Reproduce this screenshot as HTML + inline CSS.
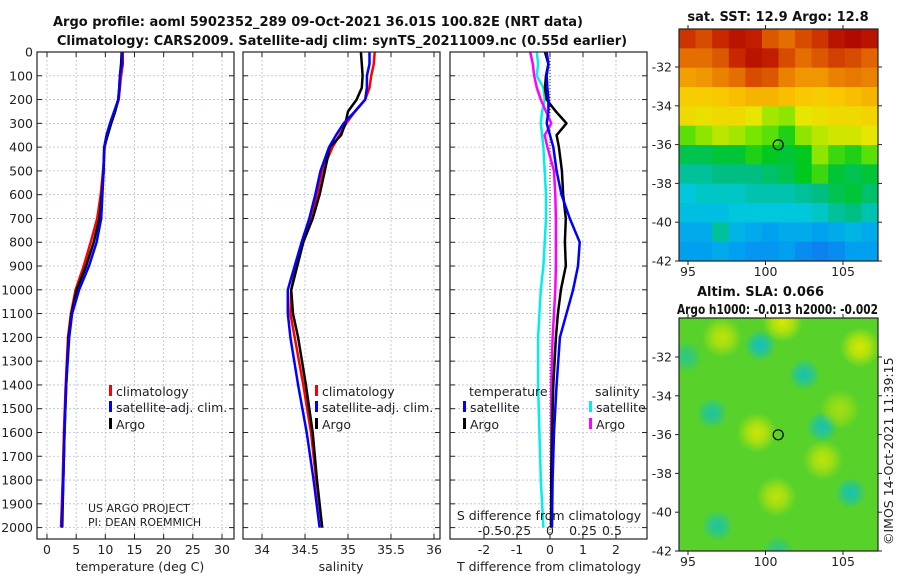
<!DOCTYPE html>
<html><head><meta charset="utf-8"><style>
body{margin:0;background:#fff;}
svg{display:block;font-family:"DejaVu Sans","Liberation Sans",sans-serif;}
.t{font-size:12.5px;fill:#222;}
.b{font-size:13px;font-weight:bold;fill:#111;}
.g{stroke:#b8bedc;stroke-width:0.8;stroke-dasharray:2,2;}
</style></head><body>
<svg id="c" width="900" height="580">
<g id="grid"></g><g id="lines"></g><g id="axes"></g><g id="maps"></g>
<text class="b" x="318" y="26" text-anchor="middle">Argo profile: aoml 5902352_289 09-Oct-2021 36.01S 100.82E (NRT data)</text>
<text class="b" x="342" y="45" text-anchor="middle">Climatology: CARS2009. Satellite-adj clim: synTS_20211009.nc (0.55d earlier)</text>
<text class="b" x="778" y="21" text-anchor="middle">sat. SST: 12.9 Argo: 12.8</text>
<text class="b" x="697" y="296">Altim. SLA: 0.066</text>
<text class="b" x="677" y="314" textLength="201" lengthAdjust="spacingAndGlyphs">Argo h1000: -0.013 h2000: -0.002</text>
<text class="t" x="0" y="0" transform="translate(893,545) rotate(-90)">©IMOS 14-Oct-2021 11:39:15</text>
<text class="t" x="140" y="571" text-anchor="middle">temperature (deg C)</text>
<text class="t" x="341" y="571" text-anchor="middle">salinity</text>
<text class="t" x="549" y="571" text-anchor="middle">T difference from climatology</text>
<text class="t" x="549" y="520" text-anchor="middle">S difference from climatology</text>
<text style="font-size:11px;fill:#222" x="88" y="512">US ARGO PROJECT</text>
<text style="font-size:11px;fill:#222" x="88" y="526">PI: DEAN ROEMMICH</text>
</svg>
<script>
const depths=[0,50,100,150,200,250,300,350,400,500,600,700,800,900,1000,1100,1200,1400,1600,1800,2000];
const tArgo=[12.8,12.7,12.5,12.4,12.2,11.7,11.0,10.4,9.8,9.7,9.4,9.0,8.0,6.7,5.1,4.2,3.7,3.3,3.0,2.8,2.6];
const tClim=[13.0,13.0,12.7,12.5,12.3,11.6,10.9,10.3,9.9,9.6,9.2,8.6,7.5,6.3,4.9,4.1,3.6,3.2,2.9,2.7,2.4];
const tSat=[12.9,12.9,12.5,12.4,12.2,11.5,10.8,10.2,9.8,9.7,9.5,9.3,8.5,7.2,5.5,4.3,3.8,3.3,3.0,2.8,2.5];
const sArgo=[35.15,35.16,35.17,35.16,35.1,35.0,34.97,34.92,34.79,34.73,34.67,34.59,34.48,34.41,34.34,34.36,34.42,34.51,34.59,34.64,34.70];
const sClim=[35.31,35.30,35.27,35.25,35.2,35.08,34.98,34.9,34.82,34.70,34.64,34.57,34.48,34.40,34.34,34.33,34.38,34.48,34.57,34.63,34.70];
const sSat=[35.25,35.25,35.22,35.22,35.2,35.08,34.95,34.86,34.78,34.68,34.62,34.55,34.46,34.38,34.30,34.30,34.33,34.42,34.52,34.60,34.67];
const dTSat=[-0.1,-0.05,-0.1,-0.08,-0.05,-0.05,-0.1,0.0,0.1,0.2,0.35,0.6,0.9,0.85,0.7,0.5,0.3,0.2,0.12,0.08,0.06];
const dTArgo=[-0.15,-0.05,-0.12,-0.15,-0.1,0.18,0.5,0.2,0.27,0.36,0.4,0.48,0.45,0.48,0.33,0.24,0.18,0.1,0.06,0.04,0.03];
const dSSat=[-0.1,-0.09,-0.1,-0.05,-0.04,-0.06,-0.07,-0.06,-0.05,-0.04,-0.03,-0.03,-0.04,-0.05,-0.07,-0.08,-0.09,-0.09,-0.08,-0.07,-0.05];
const dSArgo=[-0.15,-0.13,-0.12,-0.1,-0.07,-0.03,0.01,-0.04,-0.02,0.03,0.04,0.045,0.045,0.045,0.04,0.03,0.02,0.01,0.01,0.01,0.01];
const tTicks=[0,5,10,15,20,25,30];
const sTicks=[34,34.5,35,35.5,36];
const sTickLabels=["34","34.5","35","35.5","36"];
const dTTicks=[-2,-1,0,1,2];
const dSTicks=[-0.5,-0.25,0,0.25,0.5];
const dSTickLabels=["-0.5","-0.25","0","0.25","0.5"];
const depthTicks=[0,100,200,300,400,500,600,700,800,900,1000,1100,1200,1300,1400,1500,1600,1700,1800,1900,2000];
const sstRows=[
[15.5,15.3,15.6,15.8,15.7,15.2,15.0,15.3,15.5,15.8,15.9,15.8],
[15.0,15.0,15.2,15.6,15.8,15.7,15.3,15.0,15.2,15.4,15.3,15.1],
[14.5,14.6,14.8,15.0,15.3,15.2,14.8,14.6,14.6,14.8,14.9,14.8],
[14.0,14.0,14.1,14.2,14.3,14.3,14.2,14.1,14.0,14.1,14.2,14.3],
[13.8,13.7,13.8,13.8,13.6,13.3,13.2,13.6,13.7,13.8,13.8,13.9],
[13.0,13.2,13.4,13.3,13.1,13.0,12.8,13.2,13.4,13.5,13.5,13.6],
[12.5,12.5,12.6,12.6,12.8,12.7,12.6,12.7,13.2,12.9,12.8,13.0],
[12.2,12.2,12.3,12.3,12.3,12.4,12.5,12.7,12.9,12.6,12.5,12.6],
[11.9,12.0,12.0,12.0,12.1,12.1,12.1,12.2,12.3,12.5,12.6,12.4],
[11.8,11.8,11.8,11.9,11.9,11.9,11.9,11.9,12.0,12.2,12.3,12.1],
[11.6,11.6,12.2,11.7,11.6,11.5,11.6,11.6,11.5,11.6,11.7,11.6],
[11.5,11.5,11.6,11.5,11.4,11.4,11.5,11.3,11.2,11.3,11.5,11.5]];
const blobLon=[99.65,102.5,96.55,103.65,105.5,96.9,94.9,100.8,101.1,97.2,106.1,99.45,103.7,100.7,104.8];
const blobLat=[-31.4,-32.9,-34.9,-35.6,-39.0,-40.7,-32.0,-42.0,-30.2,-31.0,-31.5,-35.9,-37.3,-39.2,-34.7];
const blobVal=[-1,-0.9,-0.8,-0.9,-0.9,-0.8,-0.6,-0.6,1,0.8,1.2,0.9,0.8,0.8,0.6];
const lonTicks=[95,100,105];
const latTicks=[-32,-34,-36,-38,-40,-42];

const NS="http://www.w3.org/2000/svg";
function mk(tag,attrs,parent){const e=document.createElementNS(NS,tag);for(const k in attrs)e.setAttribute(k,attrs[k]);parent.appendChild(e);return e;}
const G=document.getElementById('grid'),L=document.getElementById('lines'),A=document.getElementById('axes'),M=document.getElementById('maps');
const Y=d=>52+d*0.2378;
const xT=v=>47+v*5.833, xS=v=>262+(v-34)*86, xD=v=>550+v*33, xDS=v=>550+v*132;
const panels=[[37,234,'temperature-panel'],[243,440,'salinity-panel'],[450,647,'difference-panel']];
panels.forEach(([x0,x1,n])=>{
  depthTicks.forEach(d=>{
    const l=mk('line',{x1:x0,x2:x1,y1:Y(d),y2:Y(d),class:'g'},G);
    
    
    mk('line',{x1:x0,x2:x0+5,y1:Y(d),y2:Y(d),stroke:'#222'},A);
    mk('line',{x1:x1-5,x2:x1,y1:Y(d),y2:Y(d),stroke:'#222'},A);
  });
  const r=mk('rect',{x:x0,y:52,width:x1-x0,height:487,fill:'none',stroke:'#222','stroke-width':1.2},A);
  
  
});
depthTicks.forEach(d=>{const t=mk('text',{x:33,y:Y(d)+4.5,'text-anchor':'end',class:'t'},A);t.textContent=d;
  
  });
function xticks(ticks,labels,fx,ly){ticks.forEach((v,i)=>{const x=fx(v);
  mk('line',{x1:x,x2:x,y1:52,y2:539,class:'g'},G);
  mk('line',{x1:x,x2:x,y1:534,y2:539,stroke:'#222'},A);mk('line',{x1:x,x2:x,y1:52,y2:57,stroke:'#222'},A);
  const t=mk('text',{x:x,y:ly,'text-anchor':'middle',class:'t'},A);t.textContent=labels[i];
  
  });}
xticks(tTicks,tTicks.map(String),xT,554);
xticks(sTicks,sTickLabels,xS,554);
xticks(dTTicks,dTTicks.map(String),xD,554);
const dsOff=[6,-2,0,0,-4];
dSTicks.forEach((v,i)=>{const t=mk('text',{x:xDS(v)+dsOff[i],y:535,'text-anchor':'middle',class:'t'},A);t.textContent=dSTickLabels[i];
  
  });
const zl=mk('line',{x1:550,x2:550,y1:52,y2:539,stroke:'#333','stroke-dasharray':'1,2'},G);


function series(vals,fx,col,name,w){
  const pts=vals.map((v,i)=>fx(v).toFixed(1)+','+Y(depths[i]).toFixed(1)).join(' ');
  const p=mk('polyline',{points:pts,fill:'none',stroke:col,'stroke-width':w||2.5,'stroke-linejoin':'round'},L);
  
  }
series(tClim,xT,'#f00','temp-climatology-line');series(tArgo,xT,'#000','temp-argo-line');series(tSat,xT,'#00f','temp-satellite-line');
series(sClim,xS,'#f00','sal-climatology-line');series(sArgo,xS,'#000','sal-argo-line');series(sSat,xS,'#00f','sal-satellite-line');
series(dSSat,xDS,'#0ee','sdiff-satellite-line');series(dSArgo,xDS,'#f0f','sdiff-argo-line');
series(dTArgo,xD,'#000','tdiff-argo-line');series(dTSat,xD,'#00f','tdiff-satellite-line');
function leg(x,y,col,label,nm){const b=mk('rect',{x:x,y:y-7,width:3,height:11,fill:col},A);
  
  
  if(label){const t=mk('text',{x:x+7,y:y+4,class:'t'},A);t.textContent=label;
  
  }}
[[109,'temp'],[315,'sal']].forEach(([x,p])=>{leg(x,392,'#f00','climatology',p+'-legend-climatology');
  leg(x,408,'#00f','satellite-adj. clim.',p+'-legend-satellite');leg(x,425,'#000','Argo',p+'-legend-argo');});
let tt=mk('text',{x:469,y:396,class:'t'},A);tt.textContent='temperature';


tt=mk('text',{x:595,y:396,class:'t'},A);tt.textContent='salinity';


leg(463,408,'#00f','satellite','legend-tdiff-satellite');leg(463,425,'#000','Argo','legend-tdiff-argo');
leg(589,408,'#0ee','satellite','legend-sdiff-satellite');leg(589,425,'#f0f','Argo','legend-sdiff-argo');

const stops=[[11.0,[20,110,240]],[11.5,[0,160,240]],[11.9,[0,200,220]],[12.3,[0,190,130]],[12.7,[0,200,30]],[13.1,[120,230,0]],[13.6,[230,230,0]],[14.1,[250,200,0]],[14.6,[240,150,0]],[15.1,[225,100,0]],[15.6,[200,40,0]],[16.0,[170,0,0]]];
function cmap(v){if(v<=stops[0][0])return 'rgb('+stops[0][1]+')';for(let i=1;i<stops.length;i++){if(v<=stops[i][0]){const [a,ca]=stops[i-1],[b,cb]=stops[i];const f=(v-a)/(b-a);return 'rgb('+ca.map((c,k)=>Math.round(c+(cb[k]-c)*f)).join(',')+')';}}return 'rgb('+stops[stops.length-1][1]+')';}
const lonX=l=>688+(l-95)*15.5;
const latY1=l=>67+(-32-l)*19.4, latY2=l=>357+(-32-l)*19.4;
const cw=(878-679)/12, ch=(261-29)/12;
sstRows.forEach((row,r)=>row.forEach((v,c)=>{const e=mk('rect',{x:679+c*cw,y:29+r*ch,width:cw+0.5,height:ch+0.5,fill:cmap(v)},M);
  
  }));
const defs=mk('defs',{},M);
mk('clipPath',{id:'cp2'},defs);mk('rect',{x:679,y:318,width:199,height:233},document.getElementById('cp2'));
const bg=mk('rect',{x:679,y:318,width:199,height:233,fill:'#58d22a'},M);


const gb=mk('g',{'clip-path':'url(#cp2)'},M);
blobVal.forEach((v,i)=>{const id='bg'+i;const rg=mk('radialGradient',{id:id},defs);
  const col=v<0?'#10c0c0':'#d8e800';
  mk('stop',{offset:'0','stop-color':col,'stop-opacity':Math.min(1,Math.abs(v))},rg);
  mk('stop',{offset:'0.45','stop-color':col,'stop-opacity':Math.min(1,Math.abs(v))*0.7},rg);
  mk('stop',{offset:'1','stop-color':col,'stop-opacity':0},rg);
  const c=mk('circle',{cx:lonX(blobLon[i]),cy:latY2(blobLat[i]),r:v<0?16:20,fill:'url(#'+id+')'},gb);
  
  });
[[29,261,latY1,'sst'],[318,551,latY2,'sla']].forEach(([y0,y1,fy,n])=>{
  const r=mk('rect',{x:679,y:y0,width:199,height:y1-y0,fill:'none',stroke:'#222','stroke-width':1.2},M);
  
  
  lonTicks.forEach(l=>{const x=lonX(l);mk('line',{x1:x,x2:x,y1:y1,y2:y1+4,stroke:'#222'},M);mk('line',{x1:x,x2:x,y1:y0-4,y2:y0,stroke:'#222'},M);
    const t=mk('text',{x:x,y:y1+15,'text-anchor':'middle',class:'t'},M);t.textContent=l;
    
    });
  latTicks.forEach(l=>{const y=fy(l);mk('line',{x1:675,x2:679,y1:y,y2:y,stroke:'#222'},M);mk('line',{x1:878,x2:882,y1:y,y2:y,stroke:'#222'},M);
    const t=mk('text',{x:672,y:y+4.5,'text-anchor':'end',class:'t'},M);t.textContent=l;
    
    });
  const c=mk('circle',{cx:lonX(100.82),cy:fy(-36.01),r:5,fill:'none',stroke:'#000','stroke-width':1.2},M);
  
  
});
</script>
</body></html>
